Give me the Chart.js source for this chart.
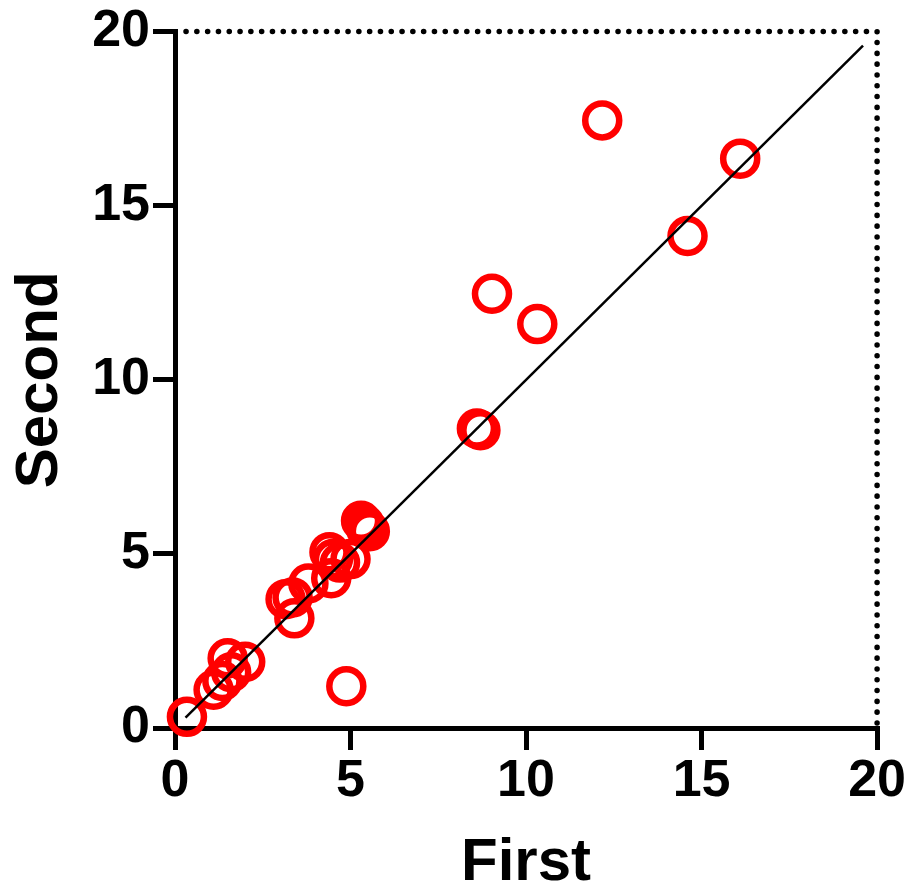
<!DOCTYPE html>
<html>
<head>
<meta charset="utf-8">
<script src="https://cdn.jsdelivr.net/npm/chart.js@4/dist/chart.umd.min.js"></script>
<style>
  html, body { margin: 0; padding: 0; background: #fff; }
  #wrap { width: 909px; height: 887px; }
</style>
</head>
<body>
<div id="wrap"><canvas id="chart" width="909" height="887"></canvas></div>
<script>
const firstValues = [0.34, 1.1, 1.35, 1.5, 1.6, 2.0, 3.15, 3.35, 3.4, 3.8, 4.4, 4.5, 4.45, 4.7, 5.0,
  5.3, 5.4, 5.45, 5.55, 4.88, 8.6, 8.7, 9.03, 10.32, 12.17, 14.6, 16.1];
const secondValues = [0.32, 1.1, 1.35, 2.0, 1.6, 1.9, 3.7, 3.75, 3.15, 4.15, 5.05, 4.85, 4.3, 4.75, 4.85,
  5.95, 5.85, 5.7, 5.65, 1.2, 8.6, 8.55, 12.47, 11.6, 17.45, 14.13, 16.35];
const lineX = [0.3, 19.6];
const lineY = [0.3, 19.6];
const axisTicks = [0, 5, 10, 15, 20];

const points = firstValues.map((x, i) => ({ x: x, y: secondValues[i] }));
const linePoints = lineX.map((x, i) => ({ x: x, y: lineY[i] }));

// dotted frame along the top and right of the plot
const dottedFrame = {
  id: 'dottedFrame',
  beforeDatasetsDraw(chart) {
    const { ctx, chartArea: a } = chart;
    ctx.save();
    ctx.strokeStyle = '#000';
    ctx.lineWidth = 5.5;
    ctx.lineCap = 'round';
    ctx.setLineDash([0.1, 10.7]);
    ctx.beginPath();
    ctx.moveTo(a.left + 11, a.top);
    ctx.lineTo(a.right, a.top);
    ctx.lineTo(a.right, a.bottom);
    ctx.stroke();
    ctx.restore();
  }
};

const tickFont = { family: 'Liberation Sans', size: 52, weight: 'bold', lineHeight: 1.1 };
const titleFont = { family: 'Liberation Sans', size: 60, weight: 'bold', lineHeight: 0.8 };

const axis = (title, size, titlePad) => ({
  type: 'linear',
  min: 0,
  max: 20,
  afterBuildTicks: (scale) => { scale.ticks = axisTicks.map(v => ({ value: v })); },
  afterFit: (scale) => {
    if (scale.isHorizontal()) scale.height = size;
    else scale.width = size;
  },
  border: { display: true, color: '#000', width: 5 },
  grid: { drawOnChartArea: false, drawTicks: true, tickLength: 22, color: '#000', lineWidth: 5 },
  ticks: { color: '#000', font: tickFont, padding: 3, maxRotation: 0 },
  title: { display: true, text: title, color: '#000', font: titleFont, padding: titlePad }
});

new Chart(document.getElementById('chart'), {
  type: 'scatter',
  data: {
    datasets: [
      {
        type: 'line',
        data: linePoints,
        borderColor: '#000',
        borderWidth: 2.5,
        pointRadius: 0,
        fill: false,
        order: 0
      },
      {
        data: points,
        pointStyle: 'circle',
        pointRadius: 17,
        pointBorderWidth: 6.5,
        pointBorderColor: '#ff0000',
        pointBackgroundColor: 'rgba(0,0,0,0)',
        clip: false,
        order: 1
      }
    ]
  },
  options: {
    responsive: false,
    animation: false,
    layout: { padding: 0 },
    plugins: { legend: { display: false }, tooltip: { enabled: false } },
    scales: {
      x: axis('First', 159, { top: 0, bottom: 0 }),
      y: axis('Second', 175, { top: 16, bottom: 0 })
    }
  },
  plugins: [dottedFrame]
});
</script>
</body>
</html>
